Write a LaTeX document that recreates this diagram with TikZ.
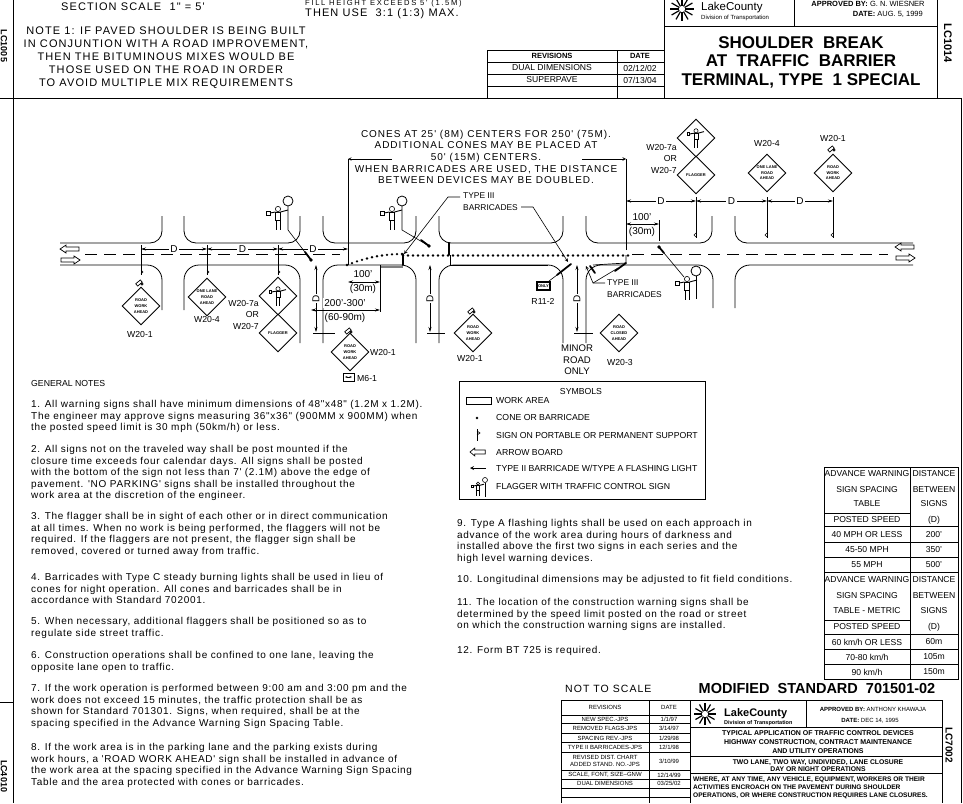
\documentclass[tikz,border=0pt]{standalone}
\usepackage{fontspec}
\setmainfont{Liberation Sans}
\newfontfamily\notefont[LetterSpace=7]{Liberation Sans}
\newfontfamily\capsfont[LetterSpace=10]{Liberation Sans}
\newfontfamily\widefont[LetterSpace=22]{Liberation Sans}
\usetikzlibrary{arrows.meta,shapes.geometric}
\newcommand{\roadtop}{243}
\newcommand{\roadbot}{265}
\newcommand{\roadmid}{254}
\newcommand{\dimleft}{249}
\newcommand{\dimright}{201}
\tikzset{
    curb/.style={line width=0.8pt},
    thin line/.style={line width=0.6pt},
    heavy/.style={line width=1.8pt, line cap=round},
    dimline/.style={line width=0.6pt, {Stealth[length=5pt,width=3pt]}-{Stealth[length=5pt,width=3pt]}},
    dimtext/.style={fill=white, inner sep=1.5pt, font=\fontsize{10}{11}\selectfont},
    lbl/.style={inner sep=0pt, font=\fontsize{8.7}{10.5}\selectfont},
    capsnote/.style={inner sep=0pt, align=center, font=\capsfont\fontsize{10}{11.6}\selectfont},
    scaletext/.style={inner sep=0pt, anchor=west, font=\capsfont\fontsize{11}{12}\selectfont},
    note/.style={anchor=north west, inner sep=0pt, align=left, font=\notefont\fontsize{10}{11.6}\selectfont},
    tabtext/.style={inner sep=0pt, font=\fontsize{8.6}{10}\selectfont},
    smalltab/.style={inner sep=0pt, font=\fontsize{6}{7}\selectfont},
    signbox/.style={diamond, draw, line width=0.9pt, shape aspect=1, minimum width=38pt, minimum height=38pt,
        inner sep=0pt, align=center, font=\fontsize{4}{5.6}\selectfont\bfseries},
    flaggerman/.pic={
        \draw[line width=0.6pt] (0,-9) circle (2.6);
        \draw[line width=0.9pt] (-8,-5) -- (-2.5,-6) (2.5,-6) -- (10,-8);
        \draw[line width=0.6pt] (-11.5,-7) rectangle (-8,-3);
        \draw[line width=0.8pt] (-2.5,-6) -- (2.5,-6) -- (2.5,2) -- (-2.5,2) -- cycle;
        \draw[line width=1pt] (-2,2) -- (-2,12) (2,2) -- (2,12);
    },
    boardarrow/.pic={
        \draw[line width=0.7pt] (-10,0) -- (-4,-4) -- (-4,-2) -- (9,-2) -- (9,2) -- (-4,2) -- (-4,4) -- cycle;
    },
    flashlight/.pic={
        \draw[line width=0.7pt, rotate=40] (-3,-1.5) rectangle (3,1.5);
        \draw[line width=0.7pt] (3,1) circle (1.2);
    },
}

\begin{document}
\begin{tikzpicture}[x=1pt, y=-1pt, >=stealth]
    \useasboundingbox (0,0) rectangle (963,803);
    % sheet frame
    \draw[thin line] (13,0) -- (13,803);
    \draw[thin line] (961,98) -- (961,803);
    \draw[curb] (0,98) -- (961,98);
    \draw[thin line] (0,702) -- (13,702);
    \node[rotate=-90, font=\bfseries\fontsize{9}{10}\selectfont, inner sep=0pt] (sheetA) at (4,46) {LC1005};
    \node[rotate=-90, font=\bfseries\fontsize{9}{10}\selectfont, inner sep=0pt] (sheetB) at (4,776) {LC4010};

    % top strip
    \node[scaletext] (scaleA) at (61,7) {SECTION SCALE \ 1" = 5'};
    \node[scaletext, font=\widefont\fontsize{7.6}{8}\selectfont] (fillA) at (305,4) {FILL HEIGHT EXCEEDS 5' (1.5M)};
    \node[scaletext] (fillB) at (305,14) {THEN USE \ 3:1 (1:3) MAX.};
    \node[capsnote, font=\capsfont\fontsize{11}{13}\selectfont] (noteOne) at (166,58) {NOTE 1: IF PAVED SHOULDER IS BEING BUILT\\
        IN CONJUNTION WITH A ROAD IMPROVEMENT,\\
        THEN THE BITUMINOUS MIXES WOULD BE\\
        THOSE USED ON THE ROAD IN ORDER\\
        TO AVOID MULTIPLE MIX REQUIREMENTS};

    % revisions, top
    \draw[curb] (487,50) rectangle (664,98);
    \foreach \y in {62, 74, 86}
        \draw[thin line] (487,\y) -- (664,\y);
    \draw[thin line] (617,50) -- (617,98);
    \node[tabtext, font=\bfseries\fontsize{7.5}{9}\selectfont] (revA) at (552,56) {REVISIONS};
    \node[tabtext, font=\bfseries\fontsize{7.5}{9}\selectfont] (revB) at (640,56) {DATE};
    \node[tabtext] (revC) at (552,68) {DUAL DIMENSIONS};
    \node[tabtext] (revD) at (640,68) {02/12/02};
    \node[tabtext] (revE) at (552,80) {SUPERPAVE};
    \node[tabtext] (revF) at (640,80) {07/13/04};

    % title block, top
    \draw[curb] (664,0) -- (664,98);
    \draw[curb] (664,26) -- (937,26);
    \draw[curb] (794,0) -- (794,26);
    \draw[curb] (937,0) -- (937,98);
    \foreach \a in {0, 30, ..., 330}
        \draw[line width=1.2pt] (682,9) +(\a:3) -- +(\a:12);
    \node[inner sep=0pt, anchor=west, font=\fontsize{11.5}{13}\selectfont] (lakeA) at (701,8) {LakeCounty};
    \node[inner sep=0pt, anchor=west, font=\fontsize{6}{7}\selectfont] (lakeB) at (701,18) {Division of Transportation};
    \node[inner sep=0pt, font=\fontsize{7.5}{9}\selectfont] (apprA) at (868,4) {\textbf{APPROVED BY:} G. N. WIESNER};
    \node[inner sep=0pt, anchor=east, font=\fontsize{7.5}{9}\selectfont] (apprB) at (923,14) {\textbf{DATE:} AUG. 5, 1999};
    \node[inner sep=0pt, align=center, font=\bfseries\fontsize{17}{18.5}\selectfont] (titleA) at (801,62) {SHOULDER \ BREAK\\AT \ TRAFFIC \ BARRIER\\TERMINAL, TYPE \ 1 SPECIAL};
    \node[rotate=-90, inner sep=0pt, font=\bfseries\fontsize{11}{12}\selectfont] (titleB) at (948,43) {LC1014};

    % road edges, north side
    \draw[curb] (60,\roadtop) -- (150,\roadtop) arc (90:0:12) -- (162,216);
    \draw[curb] (184,216) -- (184,231) arc (180:90:12) -- (288,\roadtop) arc (90:0:12) -- (300,216);
    \draw[curb] (323,216) -- (323,231) arc (180:90:12) -- (404,\roadtop) arc (90:0:12) -- (416,216);
    \draw[curb] (439,216) -- (439,231) arc (180:90:12) -- (551,\roadtop) arc (90:0:12) -- (563,216);
    \draw[curb] (586,216) -- (586,231) arc (180:90:12) -- (700,\roadtop) arc (90:0:12) -- (712,216);
    \draw[curb] (735,216) -- (735,231) arc (180:90:12) -- (913,\roadtop);
    % road edges, south side
    \draw[curb] (60,\roadbot) -- (147,\roadbot) arc (-90:0:15) -- (162,310);
    \draw[curb] (184,310) -- (184,280) arc (180:270:15) -- (285,\roadbot) arc (-90:0:15) -- (300,343);
    \draw[curb] (323,343) -- (323,280) arc (180:270:15) -- (401,\roadbot) arc (-90:0:15) -- (416,343);
    \draw[curb] (439,343) -- (439,280) arc (180:270:15) -- (548,\roadbot) arc (-90:0:15) -- (563,343);
    \draw[curb] (586,343) -- (586,280) arc (180:270:15) -- (698,\roadbot) arc (-90:0:15) -- (713,308);
    \draw[curb] (735,308) -- (735,280) arc (180:270:15) -- (913,\roadbot);
    % centre line
    \draw[line width=0.7pt, dash pattern=on 12pt off 7pt] (85,\roadmid) -- (340,\roadmid);
    \draw[line width=0.7pt, dash pattern=on 12pt off 7pt] (632,\roadmid) -- (888,\roadmid);

    % arrow boards
    \pic at (70,249) {boardarrow};
    \pic[xscale=-1] at (70,260) {boardarrow};
    \pic at (905,247) {boardarrow};
    \pic[xscale=-1] at (905,258) {boardarrow};

    % cones along the closure
    \foreach \t in {0, ..., 11}
        \fill ({347+\t*5}, {254+11*(1-\t/11)*(1-\t/11)}) circle (1.3);
    \foreach \x in {403, 408, ..., 628}
        \fill (\x,255.5) circle (1.4);
    \draw[line width=1.4pt, gray] (380,267) -- (403,267);
    \draw[heavy] (403,254) -- (403,265);
    \draw[heavy] (449,243) -- (449,255);
    \draw[heavy] (557,275) -- (571,264);
    \draw[heavy] (590,266) -- (595,273);
    \draw[heavy] (615,271) -- (626,263);
    \draw[line width=0.7pt] (450,255) -- (450,265) -- (548,265);
    \draw[line width=0.7pt] (626,255) -- (626,263) -- (593,265);

    % extent of the taper
    \coordinate (extentA) at (348,159);
    \coordinate (extentB) at (626,159);
    \draw[curb] (348,265) -- (extentA);
    \draw[curb] (626,250) -- (extentB);
    \draw[thin line, <-] (extentA) -- (392,159);
    \draw[thin line, <-] (extentB) -- (582,159);
    \node[capsnote] (conesA) at (486,157) {CONES AT 25' (8M) CENTERS FOR 250' (75M).\\
        ADDITIONAL CONES MAY BE PLACED AT\\
        50' (15M) CENTERS.\\
        WHEN BARRICADES ARE USED, THE DISTANCE\\
        BETWEEN DEVICES MAY BE DOUBLED.};

    % spacing along the road
    \foreach \a/\b in {141/207, 207/278, 278/348}
        \draw[dimline] (\a,\dimleft) -- node[dimtext]{D} (\b,\dimleft);
    \foreach \a/\b in {626/696, 696/767, 767/833}
        \draw[dimline] (\a,\dimright) -- node[dimtext]{D} (\b,\dimright);
    \foreach \x in {141, 207, 278} {
        \draw[thin line] (\x,245) -- (\x,275);
        \draw[thin line] (\x,270) -- (\x+2,272) -- (\x,274);
    }
    \foreach \x in {696, 767, 833} {
        \draw[thin line] (\x,197) -- (\x,238);
        \draw[thin line] (\x,233) -- (\x-2,235) -- (\x,237);
    }

    % dimensions in the side streets
    \foreach \x/\e in {316/335, 430/445, 577/593} {
        \draw[dimline] (\x,\roadbot) -- node[dimtext, rotate=90, inner sep=1pt]{D} (\x,332);
        \draw[thin line] (\x-3,333) -- (\e,333);
    }
    \draw[dimline] (348,282) -- (380,282);
    \draw[thin line] (380,265) -- (380,312);
    \node[lbl, font=\fontsize{10}{11}\selectfont] (hundredA) at (363,274) {100'};
    \node[lbl, font=\fontsize{10}{11}\selectfont] (hundredB) at (363,289) {(30m)};
    \draw[dimline] (311,310) -- (380,310);
    \node[lbl, font=\fontsize{10}{11}\selectfont, fill=white, inner sep=1pt] (rangeA) at (345,303) {200'-300'};
    \node[lbl, font=\fontsize{10}{11}\selectfont] (rangeB) at (345,318) {(60-90m)};
    \draw[dimline] (626,224) -- (659,224);
    \draw[thin line] (659,220) -- (659,241);
    \node[lbl, font=\fontsize{10}{11}\selectfont] (hundredC) at (642,217) {100'};
    \node[lbl, font=\fontsize{10}{11}\selectfont] (hundredD) at (642,232) {(30m)};

    % warning signs
    \node[signbox] (signA) at (141,306) {ROAD\\WORK\\AHEAD};
    \node[signbox] (signB) at (207,297) {ONE LANE\\ROAD\\AHEAD};
    \node[signbox] (signC) at (278,296) {};
    \node[signbox] (signD) at (278,333) {FLAGGER};
    \node[signbox] (signE) at (350,352) {ROAD\\WORK\\AHEAD};
    \node[signbox] (signF) at (473,333) {ROAD\\WORK\\AHEAD};
    \node[signbox] (signG) at (619,333) {ROAD\\CLOSED\\AHEAD};
    \node[signbox] (signH) at (696,138) {};
    \node[signbox] (signI) at (696,175) {FLAGGER};
    \node[signbox] (signJ) at (767,173) {ONE LANE\\ROAD\\AHEAD};
    \node[signbox] (signK) at (833,173) {ROAD\\WORK\\AHEAD};
    \pic[scale=0.8] at (signC) {flaggerman};
    \pic[scale=0.8] at (signH) {flaggerman};
    \pic at (139,283) {flashlight};
    \pic at (348,331) {flashlight};
    \pic at (471,311) {flashlight};
    \pic at (831,149) {flashlight};

    \node[lbl] (tagA) at (140,335) {W20-1};
    \node[lbl] (tagB) at (207,320) {W20-4};
    \node[lbl, align=right, anchor=east, font=\fontsize{8.7}{11.6}\selectfont] (tagC) at (259,315) {W20-7a\\OR\\W20-7};
    \node[lbl] (tagD) at (383,353) {W20-1};
    \node[lbl] (tagE) at (470,358) {W20-1};
    \node[lbl] (tagF) at (620,362) {W20-3};
    \node[lbl, align=right, anchor=east, font=\fontsize{8.7}{11.6}\selectfont] (tagG) at (677,159) {W20-7a\\OR\\W20-7};
    \node[lbl] (tagH) at (767,144) {W20-4};
    \node[lbl] (tagI) at (833,139) {W20-1};
    \draw[thin line] (343,373) rectangle (354,381);
    \draw[thin line, <->, >={Stealth[length=2.5pt]}] (345,377) -- (352,377);
    \node[lbl, anchor=west] (tagJ) at (357,378) {M6-1};

    % flaggers
    \coordinate (leaderA) at (311,260);
    \coordinate (leaderB) at (429,246);
    \coordinate (leaderC) at (659,247);
    \foreach \x/\y in {278/218, 392/218, 687/288}
        \pic at (\x,\y) {flaggerman};
    \draw[curb] (288,201) circle (5);
    \draw[curb] (402,201) circle (5);
    \draw[curb] (696,271) circle (5);
    \draw[thin line] (288,206) -- (288,230) -- (leaderA);
    \draw[thin line] (402,206) -- (402,230) -- (leaderB);
    \draw[thin line] (696,276) -- (696,299);
    \draw[thin line] (684,277) -- (leaderC);
    \draw[heavy] (305,252) -- (leaderA);
    \draw[heavy] (421,240) -- (leaderB);
    \draw[heavy] (664,253) -- (leaderC);
    \fill (leaderA) circle (1.8);
    \fill (leaderB) circle (1.8);
    \fill (leaderC) circle (1.8);

    % barricade leaders and sign R1-2
    \node[lbl, align=left, anchor=west, font=\fontsize{8.4}{11.8}\selectfont] (typeA) at (463,202) {TYPE III\\BARRICADES};
    \draw[thin line, ->] (460,197) -- (448,197) -- (404,254);
    \draw[thin line, ->] (521,207) -- (533,207) -- (568,262);
    \node[lbl, align=left, anchor=west, font=\fontsize{8.4}{11.8}\selectfont] (typeB) at (607,289) {TYPE III\\BARRICADES};
    \draw[thin line, ->] (605,283) -- (593,283) -- (586,266);
    \draw[thin line] (593,283) -- (618,268);
    \draw[thin line] (549,281) -- (557,275);
    \draw[line width=1.2pt] (537,282) rectangle (550,290);
    \node[inner sep=0pt, font=\bfseries\fontsize{4}{5}\selectfont] (onlyA) at (543.5,286) {ONLY};
    \node[lbl] (tagK) at (543,301) {R11-2};
    \node[capsnote, font=\fontsize{9.6}{11.6}\selectfont] (minorA) at (577,360) {MINOR\\ROAD\\ONLY};

    % symbols
    \draw[thin line] (459,381) rectangle (705,499);
    \node[lbl] (symA) at (581,391) {SYMBOLS};
    \draw[curb] (466,397) rectangle (491,404);
    \fill (477,418) circle (1.4);
    \draw[curb] (477,429) -- (477,441);
    \draw[thin line] (477,431) -- (480,433) -- (477,435);
    \pic[xscale=0.8] at (478,452) {boardarrow};
    \draw[line width=0.8pt, <-] (470,468) -- (486,468);
    \pic[scale=0.6] at (478,489) {flaggerman};
    \draw[thin line] (485,480) circle (2.5);
    \draw[thin line] (485,482.5) -- (485,497);
    \node[lbl, anchor=west] (symB) at (496,400) {WORK AREA};
    \node[lbl, anchor=west] (symC) at (496,417) {CONE OR BARRICADE};
    \node[lbl, anchor=west] (symD) at (496,435) {SIGN ON PORTABLE OR PERMANENT SUPPORT};
    \node[lbl, anchor=west] (symE) at (496,452) {ARROW BOARD};
    \node[lbl, anchor=west] (symF) at (496,468) {TYPE II BARRICADE W/TYPE A FLASHING LIGHT};
    \node[lbl, anchor=west] (symG) at (496,486) {FLAGGER WITH TRAFFIC CONTROL SIGN};

    % general notes
    \node[lbl, anchor=west] (gnA) at (31,383) {GENERAL NOTES};
    \node[note] (gnB) at (31,400) {1. All warning signs shall have minimum dimensions of 48"x48" (1.2M x 1.2M).\\
        The engineer may approve signs measuring 36"x36" (900MM x 900MM) when\\
        the posted speed limit is 30 mph (50km/h) or less.};
    \node[note] (gnC) at (31,445) {2. All signs not on the traveled way shall be post mounted if the\\
        closure time exceeds four calendar days. All signs shall be posted\\
        with the bottom of the sign not less than 7' (2.1M) above the edge of\\
        pavement. 'NO PARKING' signs shall be installed throughout the\\
        work area at the discretion of the engineer.};
    \node[note] (gnD) at (31,512) {3. The flagger shall be in sight of each other or in direct communication\\
        at all times. When no work is being performed, the flaggers will not be\\
        required. If the flaggers are not present, the flagger sign shall be\\
        removed, covered or turned away from traffic.};
    \node[note] (gnE) at (31,573) {4. Barricades with Type C steady burning lights shall be used in lieu of\\
        cones for night operation. All cones and barricades shall be in\\
        accordance with Standard 702001.};
    \node[note] (gnF) at (31,617) {5. When necessary, additional flaggers shall be positioned so as to\\
        regulate side street traffic.};
    \node[note] (gnG) at (31,651) {6. Construction operations shall be confined to one lane, leaving the\\
        opposite lane open to traffic.};
    \node[note] (gnH) at (31,684) {7. If the work operation is performed between 9:00 am and 3:00 pm and the\\
        work does not exceed 15 minutes, the traffic protection shall be as\\
        shown for Standard 701301. Signs, when required, shall be at the\\
        spacing specified in the Advance Warning Sign Spacing Table.};
    \node[note] (gnI) at (31,743) {8. If the work area is in the parking lane and the parking exists during\\
        work hours, a 'ROAD WORK AHEAD' sign shall be installed in advance of\\
        the work area at the spacing specified in the Advance Warning Sign Spacing\\
        Table and the area protected with cones or barricades.};
    \node[note] (gnJ) at (457,519) {9. Type A flashing lights shall be used on each approach in\\
        advance of the work area during hours of darkness and\\
        installed above the first two signs in each series and the\\
        high level warning devices.};
    \node[note] (gnK) at (457,575) {10. Longitudinal dimensions may be adjusted to fit field conditions.};
    \node[note] (gnL) at (457,598) {11. The location of the construction warning signs shall be\\
        determined by the speed limit posted on the road or street\\
        on which the construction warning signs are installed.};
    \node[note] (gnM) at (457,646) {12. Form BT 725 is required.};

    % spacing table
    \draw[curb] (824,467) rectangle (958,679);
    \draw[curb] (910,467) -- (910,679);
    \foreach \y in {526, 542, 557, 572, 634, 649, 664}
        \draw[thin line] (824,\y) -- (958,\y);
    \draw[thin line] (824,513) -- (910,513);
    \draw[thin line] (824,620) -- (910,620);
    \foreach \y/\a/\b [count=\i] in {474/ADVANCE WARNING/DISTANCE, 490/SIGN SPACING/BETWEEN, 504/TABLE/SIGNS, 520/POSTED SPEED/(D),
            535/40 MPH OR LESS/200', 550/45-50 MPH/350', 565/55 MPH/500',
            580/ADVANCE WARNING/DISTANCE, 596/SIGN SPACING/BETWEEN, 611/TABLE - METRIC/SIGNS, 627/POSTED SPEED/(D),
            642/{60 km/h OR LESS}/60m, 657/{70-80 km/h}/105m, 672/{90 km/h}/150m} {
        \node[tabtext] (rowL\i) at (867,\y) {\a};
        \node[tabtext] (rowR\i) at (934,\y) {\b};
    }

    % bottom title block
    \node[scaletext, font=\capsfont\fontsize{10.5}{12}\selectfont] (scaleB) at (565,689) {NOT TO SCALE};
    \node[inner sep=0pt, font=\bfseries\fontsize{14.5}{15}\selectfont] (stdA) at (817,688) {MODIFIED \ STANDARD \ 701501-02};
    \draw[curb] (561,700) -- (942,700);
    \draw[curb] (561,700) -- (561,803);
    \draw[curb] (649,700) -- (649,803);
    \draw[curb] (690,700) -- (690,803);
    \foreach \y in {715, 723.5, 733, 742.5, 752, 770, 779, 788, 797}
        \draw[thin line] (561,\y) -- (690,\y);
    \node[smalltab] (botA) at (605,707) {REVISIONS};
    \node[smalltab] (botB) at (669,707) {DATE};
    \node[smalltab] (botC) at (605,719) {NEW SPEC.-JPS};
    \node[smalltab] (botD) at (669,719) {1/1/97};
    \node[smalltab] (botE) at (605,728) {REMOVED FLAGS-JPS};
    \node[smalltab] (botF) at (669,728) {3/14/97};
    \node[smalltab] (botG) at (605,738) {SPACING REV.-JPS};
    \node[smalltab] (botH) at (669,738) {1/29/98};
    \node[smalltab] (botI) at (605,747) {TYPE II BARRICADES-JPS};
    \node[smalltab] (botJ) at (669,747) {12/1/98};
    \node[smalltab, align=center] (botK) at (605,761) {REVISED DIST. CHART\\ADDED STAND. NO.-JPS};
    \node[smalltab] (botL) at (669,761) {3/10/99};
    \node[smalltab] (botM) at (605,775) {SCALE, FONT, SIZE--GNW};
    \node[smalltab] (botN) at (669,775) {12/14/99};
    \node[smalltab] (botO) at (605,783) {DUAL DIMENSIONS};
    \node[smalltab] (botP) at (669,783) {03/25/02};

    \draw[curb] (942,700) -- (942,803);
    \draw[curb] (806,700) -- (806,727);
    \foreach \y in {727, 756, 773}
        \draw[curb] (690,\y) -- (942,\y);
    \foreach \a in {0, 30, ..., 330}
        \draw[line width=1.2pt] (705,714) +(\a:3) -- +(\a:11);
    \node[inner sep=0pt, anchor=west, font=\bfseries\fontsize{11}{13}\selectfont] (lakeC) at (724,714) {LakeCounty};
    \node[inner sep=0pt, anchor=west, font=\bfseries\fontsize{5.5}{7}\selectfont] (lakeD) at (724,723) {Division of Transportation};
    \node[inner sep=0pt, font=\fontsize{6}{7}\selectfont] (apprC) at (873,709) {\textbf{APPROVED BY:} ANTHONY KHAWAJA};
    \node[inner sep=0pt, font=\fontsize{6}{7}\selectfont] (apprD) at (870,721) {\textbf{DATE:} DEC 14, 1995};
    \node[inner sep=0pt, align=center, font=\bfseries\fontsize{7}{9}\selectfont] (titleC) at (818,742) {TYPICAL APPLICATION OF TRAFFIC CONTROL DEVICES\\
        HIGHWAY CONSTRUCTION, CONTRACT MAINTENANCE\\AND UTILITY OPERATIONS};
    \node[inner sep=0pt, align=center, font=\bfseries\fontsize{6.8}{7.6}\selectfont] (titleD) at (818,765.5) {TWO LANE, TWO WAY, UNDIVIDED, LANE CLOSURE\\DAY OR NIGHT OPERATIONS};
    \node[inner sep=0pt, anchor=north west, align=left, font=\bfseries\fontsize{6.6}{8}\selectfont] (titleE) at (693,777) {WHERE, AT ANY TIME, ANY VEHICLE, EQUIPMENT, WORKERS OR THEIR\\
        ACTIVITIES ENCROACH ON THE PAVEMENT DURING SHOULDER\\
        OPERATIONS, OR WHERE CONSTRUCTION REQUIRES LANE CLOSURES.};
    \node[rotate=-90, inner sep=0pt, font=\bfseries\fontsize{10}{11}\selectfont] (titleF) at (949,745) {LC7002};
\end{tikzpicture}
\end{document}
